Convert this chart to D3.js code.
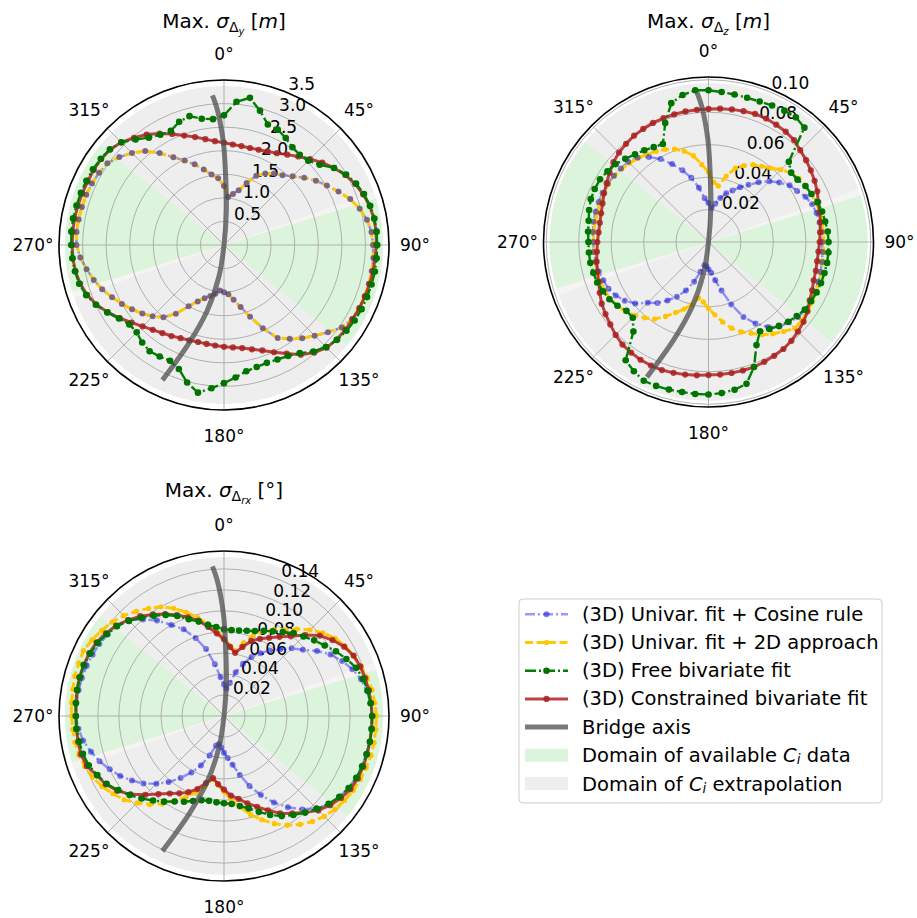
<!DOCTYPE html>
<html>
<head>
<meta charset="utf-8">
<script src="https://cdnjs.cloudflare.com/ajax/libs/d3/7.8.5/d3.min.js"></script>
<style>
  body { margin: 0; background: #fff; }
  text { font-family: 'DejaVu Sans', sans-serif; white-space: pre; }
</style>
</head>
<body>
<div id="viz"></div>
<script>
var width = 917,
    height = 918,
    R = 165;

// angle of every data point (degrees, clockwise from north)
var angles = [0,5,10,15,20,25,30,35,40,45,50,55,
              60,65,70,75,80,85,90,95,100,105,110,115,
              120,125,130,135,140,145,150,155,160,165,170,175,
              180,185,190,195,200,205,210,215,220,225,230,235,
              240,245,250,255,260,265,270,275,280,285,290,295,
              300,305,310,315,320,325,330,335,340,345,350,355];

// Max sigma Delta y [m]
var yCosine = [1.25,1.02,1.10,1.20,1.40,1.62,1.75,1.85,1.93,2.06,2.22,2.38,
               2.52,2.68,2.85,2.98,3.08,3.14,3.16,3.18,3.18,3.18,3.18,3.17,
               3.14,3.05,2.88,2.72,2.58,2.43,2.28,1.95,1.62,1.36,1.18,1.05,
               1.00,0.97,1.05,1.12,1.20,1.32,1.50,1.78,2.00,2.14,2.26,2.38,
               2.50,2.62,2.75,2.86,2.96,3.06,3.13,3.14,3.13,3.12,3.11,3.09,
               3.06,3.02,2.90,2.76,2.60,2.38,2.15,1.98,1.82,1.66,1.52,1.42];
var y2D = [1.25,1.02,1.10,1.20,1.40,1.62,1.75,1.85,1.93,2.06,2.22,2.38,
           2.52,2.68,2.85,2.98,3.08,3.14,3.16,3.18,3.18,3.18,3.18,3.17,
           3.14,3.05,2.88,2.72,2.58,2.43,2.28,1.95,1.62,1.36,1.18,1.05,
           1.00,0.97,1.05,1.12,1.20,1.32,1.50,1.78,2.00,2.14,2.26,2.38,
           2.50,2.62,2.75,2.86,2.96,3.06,3.13,3.14,3.13,3.12,3.11,3.09,
           3.06,3.02,2.90,2.76,2.60,2.38,2.15,1.98,1.82,1.66,1.52,1.42];
var yFree = [2.75,3.05,3.17,2.95,2.72,2.70,2.62,2.53,2.50,2.53,2.65,2.85,
             2.99,3.09,3.16,3.21,3.24,3.25,3.25,3.25,3.25,3.24,3.23,3.22,
             3.20,3.17,3.13,3.06,2.95,2.80,2.72,2.68,2.66,2.68,2.72,2.82,
             2.93,3.05,3.18,3.02,2.80,2.71,2.73,2.75,2.70,2.62,2.62,2.72,
             2.86,3.00,3.11,3.18,3.21,3.23,3.24,3.25,3.25,3.24,3.23,3.22,
             3.21,3.19,3.16,3.08,2.92,2.78,2.70,2.67,2.78,2.83,2.72,2.68];
var yConstrained = [2.17,2.14,2.13,2.13,2.15,2.19,2.25,2.34,2.45,2.58,2.72,2.85,
                    2.97,3.07,3.14,3.20,3.23,3.24,3.23,3.22,3.21,3.20,3.18,3.17,
                    3.15,3.14,3.12,3.08,2.98,2.84,2.66,2.51,2.38,2.29,2.22,2.18,
                    2.16,2.14,2.13,2.13,2.15,2.18,2.23,2.28,2.35,2.44,2.56,2.70,
                    2.85,2.99,3.09,3.16,3.20,3.22,3.22,3.22,3.22,3.21,3.20,3.19,
                    3.19,3.18,3.15,3.08,2.97,2.86,2.73,2.60,2.47,2.37,2.28,2.21];

// Max sigma Delta z [m]
var zCosine = [0.024,0.021,0.024,0.028,0.032,0.035,0.039,0.043,0.048,0.053,0.057,0.061,
               0.063,0.066,0.068,0.069,0.0695,0.070,0.070,0.0705,0.071,0.0715,0.072,0.0725,
               0.073,0.073,0.072,0.070,0.068,0.064,0.058,0.051,0.041,0.031,0.024,0.019,
               0.017,0.015,0.0145,0.019,0.026,0.033,0.039,0.044,0.049,0.053,0.059,0.063,
               0.066,0.068,0.069,0.070,0.0705,0.071,0.071,0.0715,0.072,0.072,0.072,0.072,
               0.0718,0.0712,0.0705,0.070,0.068,0.064,0.059,0.053,0.047,0.041,0.034,0.027];
var z2D = [0.043,0.037,0.035,0.042,0.0485,0.052,0.055,0.057,0.0595,0.063,0.0665,0.068,
           0.069,0.070,0.0705,0.071,0.071,0.071,0.071,0.0712,0.0715,0.072,0.0725,0.073,
           0.0738,0.0745,0.075,0.0753,0.072,0.069,0.066,0.062,0.059,0.055,0.050,0.045,
           0.041,0.037,0.035,0.040,0.044,0.048,0.053,0.058,0.061,0.064,0.0668,0.0685,
           0.070,0.0706,0.071,0.071,0.071,0.071,0.071,0.071,0.071,0.071,0.0712,0.0712,
           0.0712,0.071,0.070,0.0688,0.0674,0.066,0.0645,0.063,0.061,0.058,0.054,0.048];
var zFree = [0.0935,0.0928,0.0923,0.092,0.0922,0.0928,0.0935,0.0938,0.092,0.070,0.0665,0.067,
             0.069,0.070,0.0715,0.0725,0.073,0.0738,0.074,0.0742,0.0742,0.074,0.0738,0.0735,
             0.073,0.0725,0.071,0.0695,0.0675,0.0655,0.0635,0.070,0.082,0.0905,0.0925,0.0935,
             0.094,0.094,0.0939,0.0942,0.0944,0.0944,0.092,0.089,0.072,0.066,0.066,0.0685,
             0.0705,0.0718,0.073,0.0735,0.074,0.074,0.074,0.0745,0.075,0.0762,0.0772,0.0774,
             0.0772,0.076,0.0747,0.0725,0.0705,0.069,0.0675,0.0666,0.078,0.0886,0.092,0.0939];
var zConstrained = [0.082,0.0825,0.083,0.0835,0.084,0.084,0.0835,0.083,0.082,0.080,0.0785,0.077,
                    0.0755,0.074,0.072,0.071,0.070,0.069,0.0685,0.068,0.068,0.0685,0.069,0.0705,
                    0.072,0.0745,0.0765,0.078,0.0795,0.0805,0.081,0.0815,0.082,0.082,0.082,0.082,
                    0.082,0.0825,0.083,0.0835,0.084,0.084,0.0838,0.0832,0.0825,0.081,0.079,0.0775,
                    0.076,0.074,0.072,0.071,0.070,0.069,0.0685,0.068,0.068,0.0685,0.0695,0.071,
                    0.0725,0.0745,0.0765,0.078,0.079,0.080,0.0805,0.081,0.0812,0.0815,0.0817,0.0818];

// Max sigma Delta rx [deg]
var rxCosine = [0.030,0.026,0.032,0.043,0.053,0.062,0.069,0.076,0.083,0.091,0.098,0.108,
                0.117,0.124,0.130,0.135,0.138,0.140,0.141,0.141,0.1408,0.140,0.1395,0.139,
                0.137,0.134,0.131,0.124,0.116,0.106,0.095,0.083,0.071,0.058,0.047,0.040,
                0.035,0.030,0.027,0.029,0.040,0.052,0.062,0.072,0.082,0.091,0.100,0.107,
                0.114,0.120,0.126,0.131,0.136,0.139,0.141,0.141,0.1405,0.140,0.139,0.138,
                0.137,0.135,0.133,0.129,0.120,0.111,0.100,0.091,0.079,0.066,0.050,0.037];
var rx2D = [0.074,0.067,0.063,0.072,0.082,0.089,0.095,0.100,0.108,0.116,0.123,0.129,
            0.133,0.136,0.139,0.141,0.143,0.144,0.145,0.145,0.145,0.1448,0.144,0.143,
            0.142,0.140,0.138,0.135,0.131,0.126,0.120,0.113,0.105,0.097,0.088,0.080,
            0.072,0.066,0.061,0.069,0.077,0.085,0.093,0.102,0.110,0.117,0.124,0.129,
            0.134,0.138,0.141,0.143,0.144,0.1445,0.145,0.1455,0.146,0.147,0.147,0.1475,
            0.145,0.142,0.139,0.135,0.130,0.125,0.120,0.113,0.105,0.097,0.089,0.081];
var rxFree = [0.0826,0.082,0.0825,0.084,0.086,0.0895,0.093,0.0975,0.103,0.107,0.112,0.117,
              0.123,0.1285,0.134,0.137,0.139,0.140,0.141,0.141,0.141,0.1405,0.140,0.139,
              0.137,0.134,0.130,0.125,0.120,0.115,0.110,0.104,0.097,0.091,0.087,0.084,
              0.083,0.0825,0.082,0.083,0.086,0.090,0.094,0.0995,0.105,0.111,0.117,0.123,
              0.129,0.133,0.137,0.139,0.140,0.141,0.141,0.1415,0.142,0.142,0.142,0.1405,
              0.139,0.136,0.133,0.128,0.122,0.1165,0.111,0.105,0.098,0.093,0.088,0.085];
var rxConstrained = [0.073,0.066,0.061,0.068,0.076,0.081,0.086,0.092,0.099,0.109,0.119,0.126,
                     0.132,0.136,0.138,0.139,0.140,0.1405,0.141,0.141,0.141,0.141,0.141,0.1405,
                     0.139,0.136,0.132,0.127,0.120,0.113,0.107,0.099,0.092,0.086,0.080,0.076,
                     0.070,0.065,0.060,0.066,0.074,0.080,0.085,0.090,0.097,0.106,0.116,0.124,
                     0.130,0.1335,0.139,0.141,0.141,0.141,0.141,0.1415,0.142,0.1425,0.142,0.1415,
                     0.140,0.137,0.134,0.129,0.124,0.118,0.112,0.106,0.100,0.094,0.086,0.079];

// bridge axis, as (angle, fraction of the outer radius), top end to bottom end
var bridgeAngle = [355.6, 357.2, 359.7, 1.4, 3.9, 0, 189, 194.3, 199.6, 204.5];
var bridgeFrac = [0.91, 0.82, 0.616, 0.414, 0.213, 0, 0.19, 0.41, 0.63, 0.9];

// angular domains (degrees)
var dataDomain = [[73, 129], [253, 309]];
var seamDomain = [[70.5, 73], [250.5, 253]];

var thetaTicks = [0, 45, 90, 135, 180, 225, 270, 315];
var yTicks = [0.5, 1.0, 1.5, 2.0, 2.5, 3.0, 3.5];
var zTicks = [0.02, 0.04, 0.06, 0.08, 0.10];
var rxTicks = [0.02, 0.04, 0.06, 0.08, 0.10, 0.12, 0.14];

var seriesNames = ['(3D) Univar. fit + Cosine rule',
                   '(3D) Univar. fit + 2D approach',
                   '(3D) Free bivariate fit',
                   '(3D) Constrained bivariate fit'];

var styles = [
  {color: '#1a1aff', width: 2.4, opacity: 0.45, dash: '10,3,2,3', dot: 3.0, dotColor: '#1a1ad0', dotOpacity: 0.55},
  {color: '#ffc800', width: 3.0, opacity: 1, dash: '8,3.5', dot: 2.6, dotColor: '#ffc400', dotOpacity: 1},
  {color: '#007f00', width: 2.4, opacity: 1, dash: '11,3,2,3', dot: 3.3, dotColor: '#007300', dotOpacity: 1},
  {color: '#b22222', width: 3.0, opacity: 0.85, dash: null, dot: 3.1, dotColor: '#a82222', dotOpacity: 0.85}
];
// lines drawn in this order, the cosine-rule markers go on top of the 2D line
var lineOrder = [0, 1, 3, 2];
var dotOrder = [1, 0, 3, 2];

//Create SVG in #viz
var svg = d3.select('#viz')
  .append('svg')
  .attr('width', width)
  .attr('height', height)
  .style('background', '#fff');

function drawPanel(p) {
  var g = svg.append('g')
    .attr('transform', 'translate(' + p.cx + ',' + p.cy + ')');

  var r = d3.scaleLinear().domain([0, p.rmax]).range([0, R]);
  var a = d3.scaleLinear().domain([0, 360]).range([0, 2 * Math.PI]);
  var frac = d3.scaleLinear().domain([0, 1]).range([0, R]);

  // fondo gris + dominios
  var arc = d3.arc().innerRadius(0).outerRadius(R - 6);
  g.append('circle').attr('r', R - 6).attr('fill', '#eeeeee');
  g.selectAll('.dom').data(dataDomain).enter().append('path')
    .attr('d', function(d) { return arc({startAngle: a(d[0]), endAngle: a(d[1])}); })
    .attr('fill', '#ddf4dc');
  g.selectAll('.seam').data(seamDomain).enter().append('path')
    .attr('d', function(d) { return arc({startAngle: a(d[0]), endAngle: a(d[1])}); })
    .attr('fill', '#f6f3f3');

  // grid
  g.selectAll('.ring').data(p.ticks).enter().append('circle')
    .attr('r', function(d) { return r(d); })
    .attr('fill', 'none')
    .attr('stroke', '#b0b0b0')
    .attr('stroke-width', 1);
  g.selectAll('.spoke').data(thetaTicks).enter().append('line')
    .attr('x1', 0).attr('y1', 0)
    .attr('x2', function(d) { return R * Math.sin(a(d)); })
    .attr('y2', function(d) { return -R * Math.cos(a(d)); })
    .attr('stroke', '#b0b0b0')
    .attr('stroke-width', 1);

  g.append('circle').attr('r', R)
    .attr('fill', 'none')
    .attr('stroke', '#000')
    .attr('stroke-width', 1.6);

  // etiquetas angulares
  g.selectAll('.tl').data(thetaTicks).enter().append('text')
    .attr('x', function(d) { return (R + 26) * Math.sin(a(d)); })
    .attr('y', function(d) { return -(R + 26) * Math.cos(a(d)); })
    .attr('text-anchor', 'middle')
    .attr('dominant-baseline', 'central')
    .style('font-size', '17px')
    .text(function(d) { return d + '°'; });

  // etiquetas radiales
  var la = a(22.5);
  g.selectAll('.rl').data(p.ticks).enter().append('text')
    .attr('x', function(d) { return r(d) * Math.sin(la) + 1; })
    .attr('y', function(d) { return -r(d) * Math.cos(la) - 3; })
    .style('font-size', '17px')
    .text(function(d) { return p.fmt(d); });

  // series
  var line = d3.lineRadial()
    .angle(function(d) { return a(d[0]); })
    .radius(function(d) { return r(d[1]); })
    .curve(d3.curveLinearClosed);

  function pointsOf(i) {
    return angles.map(function(t, k) { return [t, p.series[i][k]]; });
  }

  function drawLine(i) {
    var s = styles[i];
    g.append('path')
      .attr('d', line(pointsOf(i)))
      .attr('fill', 'none')
      .attr('stroke', s.color)
      .attr('stroke-width', s.width)
      .attr('stroke-opacity', s.opacity)
      .attr('stroke-dasharray', s.dash)
      .attr('stroke-linejoin', 'round');
  }

  function drawDots(i) {
    var s = styles[i];
    g.append('g').selectAll('circle').data(pointsOf(i)).enter().append('circle')
      .attr('cx', function(d) { return r(d[1]) * Math.sin(a(d[0])); })
      .attr('cy', function(d) { return -r(d[1]) * Math.cos(a(d[0])); })
      .attr('r', s.dot)
      .attr('fill', s.dotColor)
      .attr('fill-opacity', s.dotOpacity);
  }

  // univariate curves: lines first, then their markers
  drawLine(0); drawLine(1);
  drawDots(1); drawDots(0);
  // bivariate curves
  drawLine(3); drawDots(3);
  drawLine(2); drawDots(2);

  // eje del puente
  var bridge = d3.lineRadial()
    .angle(function(d) { return a(d[0]); })
    .radius(function(d) { return frac(d[1]); })
    .curve(d3.curveCatmullRom);
  g.append('path')
    .attr('d', bridge(bridgeAngle.map(function(t, k) { return [t, bridgeFrac[k]]; })))
    .attr('fill', 'none')
    .attr('stroke', '#4d4d4d')
    .attr('stroke-opacity', 0.75)
    .attr('stroke-width', 5);

  // titulo
  var t = svg.append('text')
    .attr('x', p.cx)
    .attr('y', p.titleY)
    .attr('text-anchor', 'middle')
    .style('font-size', '20px');
  t.append('tspan').text('Max. ');
  t.append('tspan').text('σ').style('font-style', 'italic');
  t.append('tspan').text('Δ').style('font-size', '14px').attr('dy', 4);
  t.append('tspan').text(p.sub).style('font-style', 'italic').style('font-size', '10px').attr('dy', 2.5);
  t.append('tspan').text(' [').style('font-size', '20px').attr('dy', -6.5);
  t.append('tspan').text(p.unit).style('font-style', p.unitItalic ? 'italic' : 'normal');
  t.append('tspan').text(']');
}

drawPanel({cx: 224, cy: 245, rmax: 3.5, ticks: yTicks, fmt: d3.format('.1f'),
           series: [yCosine, y2D, yFree, yConstrained], titleY: 28, sub: 'y', unit: 'm', unitItalic: true});
drawPanel({cx: 708.5, cy: 242, rmax: 0.1017, ticks: zTicks, fmt: d3.format('.2f'),
           series: [zCosine, z2D, zFree, zConstrained], titleY: 28, sub: 'z', unit: 'm', unitItalic: true});
drawPanel({cx: 224, cy: 716, rmax: 0.157, ticks: rxTicks, fmt: d3.format('.2f'),
           series: [rxCosine, rx2D, rxFree, rxConstrained], titleY: 497, sub: 'rx', unit: '°', unitItalic: false});

// leyenda
var leg = svg.append('g');
leg.append('rect')
  .attr('x', 519).attr('y', 599)
  .attr('width', 363).attr('height', 204)
  .attr('rx', 4)
  .attr('fill', '#fff')
  .attr('stroke', '#cccccc')
  .attr('stroke-width', 1);

var rowY = d3.scaleLinear().domain([0, 1]).range([614.3, 642.5]);

seriesNames.forEach(function(name, i) {
  var s = styles[i];
  var y = rowY(i);
  leg.append('line')
    .attr('x1', 525).attr('x2', 568).attr('y1', y).attr('y2', y)
    .attr('stroke', s.color)
    .attr('stroke-width', s.width)
    .attr('stroke-opacity', s.opacity)
    .attr('stroke-dasharray', s.dash);
  leg.append('circle')
    .attr('cx', 546.5).attr('cy', y)
    .attr('r', s.dot)
    .attr('fill', s.dotColor)
    .attr('fill-opacity', s.dotOpacity);
  leg.append('text')
    .attr('x', 582).attr('y', y)
    .attr('dominant-baseline', 'central')
    .style('font-size', '19.5px')
    .text(name);
});

leg.append('line')
  .attr('x1', 525).attr('x2', 568).attr('y1', rowY(4)).attr('y2', rowY(4))
  .attr('stroke', '#4d4d4d').attr('stroke-opacity', 0.75).attr('stroke-width', 5);
leg.append('text')
  .attr('x', 582).attr('y', rowY(4))
  .attr('dominant-baseline', 'central')
  .style('font-size', '19.5px')
  .text('Bridge axis');

[['#ddf4dc', 'Domain of available ', ' data'], ['#eeeeee', 'Domain of ', ' extrapolation']].forEach(function(d, k) {
  var y = rowY(5 + k);
  leg.append('rect')
    .attr('x', 525).attr('y', y - 6.5)
    .attr('width', 43).attr('height', 13)
    .attr('fill', d[0]);
  var tx = leg.append('text')
    .attr('x', 582).attr('y', y)
    .attr('dominant-baseline', 'central')
    .style('font-size', '19.5px');
  tx.append('tspan').text(d[1]);
  tx.append('tspan').text('C').style('font-style', 'italic');
  tx.append('tspan').text('i').style('font-style', 'italic').style('font-size', '13.5px').attr('dy', 4);
  tx.append('tspan').text(d[2]).style('font-size', '19.5px').attr('dy', -4);
});
</script>
</body>
</html>
